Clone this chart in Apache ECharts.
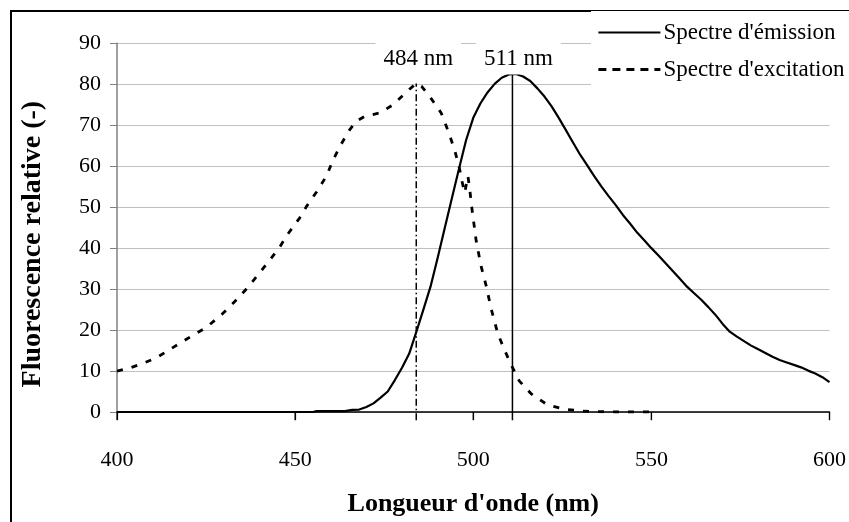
<!DOCTYPE html>
<html>
<head>
<meta charset="utf-8">
<script src="https://cdn.jsdelivr.net/npm/echarts@6/dist/echarts.min.js"></script>
<style>
html,body{margin:0;padding:0;background:#fff;}
#chart{width:849px;height:522px;}
</style>
</head>
<body>
<div id="chart"></div>
<script>
// ---- data ----
var emissionWavelengths = [400,455,456,464,466,468,470,472,474,476,478,480,482,484,486,488,490,492,494,496,498,500,502,504,506,508,510,512,514,516,518,520,522,524,526,528,530,532,534,536,538,540,542,544,546,548,550,552,554,556,558,560,562,564,566,568,570,572,574,576,578,580,582,584,586,588,590,592,594,596,598,600];
var emissionValues = [0,0,0.2,0.2,0.5,0.6,1.2,2.1,3.5,5.0,7.8,10.8,14.2,19.5,25.0,30.6,37.6,44.9,52.2,59.4,66.4,71.8,75.3,78.0,80.1,81.6,82.4,82.5,81.9,80.8,79.0,77.0,74.6,71.8,68.8,65.8,62.8,60.2,57.5,55.0,52.7,50.5,48.1,46.0,43.8,41.9,40.0,38.2,36.3,34.4,32.5,30.6,29.0,27.4,25.6,23.7,21.5,19.6,18.4,17.3,16.2,15.3,14.4,13.5,12.7,12.1,11.5,10.9,10.1,9.4,8.5,7.3];

var excitationWavelengths = [400,403,406.5,411,416,420.5,425,429.4,433,436.4,439.7,443,445.7,448,451.3,453.2,456,458.8,460.7,463,465.4,467.2,469.6,473.8,477.5,481.7,484,485.5,488.2,491,492.9,494.8,496.2,496.6,497.6,498.5,499,499.5,500,500.8,502.2,503.6,505,506.9,508.8,510.6,512.9,516.2,520.9,525.6,530.7,535,540,545,550];
var excitationValues = [10,10.6,11.6,13.2,15.9,18.3,20.6,23.8,26.9,30.1,33.6,37.2,40.3,43.5,47.4,50.2,53.7,57.6,61.6,65.5,69,71,72.2,73,75,78.5,80.2,79.5,76.5,73,68.7,63.9,59.2,57.2,53.5,57.6,54.5,50.5,47.2,41.9,35.6,30.9,25.3,19.1,15.1,11.6,7.6,4.5,1.7,0.7,0.2,0.1,0,0,0];

var excitationPeak = [484, 80.2];
var emissionPeak = [511, 82.5];
var peakLabels = ['484 nm', '511 nm'];
var belowAxis = -2;

var seriesNames = ["Spectre d'émission", "Spectre d'excitation"];
var xTitle = "Longueur d'onde (nm)";
var yTitle = "Fluorescence relative (-)";
var xMin = 400, xMax = 600, xStep = 50;
var yMin = 0, yMax = 90, yStep = 10;
var xTickValues = [400, 450, 500, 550, 600];

function zip(xs, ys) { return xs.map(function (x, i) { return [x, ys[i]]; }); }

// tick stubs below the x axis, built from the tick values (broken between ticks)
var tickStubs = [];
xTickValues.forEach(function (t, i) {
  if (i > 0) tickStubs.push([t, '-']);
  tickStubs.push([t, yMin]);
  tickStubs.push([t, belowAxis]);
});

var FONT = 'Liberation Serif';
var chart = echarts.init(document.getElementById('chart'), null, {renderer: 'canvas'});

function peakLabel(text, dist, dx, dy) {
  return {show: true, position: 'top', distance: dist, offset: [dx, dy], formatter: text,
    fontFamily: FONT, fontSize: 23, color: '#000', lineHeight: 24,
    backgroundColor: '#fff', padding: [8, 8, 4, 8]};
}

var option = {
  animation: false,
  backgroundColor: '#fff',
  grid: {left: 117, top: 43.3, width: 713.7, height: 380.7, containLabel: false},
  legend: {
    data: [
      {name: seriesNames[0]},
      {name: seriesNames[1], lineStyle: {type: [8, 6], width: 2.8}}
    ],
    orient: 'vertical',
    left: 591,
    top: 11,
    padding: [10, 12, 13, 6],
    backgroundColor: '#fff',
    itemWidth: 62,
    itemHeight: 14,
    itemGap: 14,
    itemStyle: {color: 'rgba(0,0,0,0)', borderColor: 'rgba(0,0,0,0)', borderWidth: 0, opacity: 0},
    textStyle: {fontFamily: FONT, fontSize: 23, color: '#000', lineHeight: 23, padding: [0, 0, 0, -2]}
  },
  xAxis: {
    type: 'value', min: xMin, max: xMax, interval: xStep,
    position: 'bottom',
    name: xTitle, nameLocation: 'middle', nameGap: 79,
    nameTextStyle: {fontFamily: FONT, fontSize: 26, fontWeight: 'bold', color: '#000'},
    axisLine: {show: true, onZero: false, lineStyle: {color: '#000', width: 1.5}},
    axisTick: {show: true, inside: false, length: 8, lineStyle: {color: '#000', width: 1.2}},
    axisLabel: {fontFamily: FONT, fontSize: 22, color: '#000', margin: 37},
    splitLine: {show: false}
  },
  yAxis: {
    type: 'value', min: yMin, max: yMax, interval: yStep,
    name: yTitle, nameLocation: 'middle', nameGap: 70, nameRotate: 90,
    nameTextStyle: {fontFamily: FONT, fontSize: 28, fontWeight: 'bold', color: '#000', padding: [0, 33, 0, 0]},
    axisLine: {show: true, lineStyle: {color: '#808080', width: 1.5}},
    axisTick: {show: true, length: 7, lineStyle: {color: '#808080', width: 1}},
    axisLabel: {fontFamily: FONT, fontSize: 22, color: '#000', margin: 16},
    splitLine: {show: true, lineStyle: {color: '#c0c0c0', width: 1}}
  },
  graphic: [{
    type: 'rect', silent: true, z: -1,
    shape: {x: 11, y: 11, width: 860, height: 540},
    style: {fill: 'none', stroke: '#000', lineWidth: 2}
  }],
  series: [
    {
      name: seriesNames[0], type: 'line', data: zip(emissionWavelengths, emissionValues),
      showSymbol: false, symbol: 'none', smooth: false,
      lineStyle: {color: '#000', width: 2.2, type: 'solid'},
      itemStyle: {color: '#000'}, z: 3
    },
    {
      name: seriesNames[1], type: 'line', data: zip(excitationWavelengths, excitationValues),
      showSymbol: false, symbol: 'none', smooth: false,
      lineStyle: {color: '#000', width: 2.8, type: [6, 9]},
      itemStyle: {color: '#000'}, z: 3
    },
    {
      name: 'ex-peak', type: 'line', clip: false, symbol: 'circle', symbolSize: 1, showSymbol: true,
      itemStyle: {color: 'rgba(0,0,0,0)'},
      lineStyle: {color: '#000', width: 1.5, type: [7, 3, 1.5, 3]},
      label: {show: false},
      data: [[excitationPeak[0], belowAxis], {value: excitationPeak, label: peakLabel(peakLabels[0], 11, 2, 3)}],
      z: 4
    },
    {
      name: 'em-peak', type: 'line', clip: false, symbol: 'circle', symbolSize: 1, showSymbol: true,
      itemStyle: {color: 'rgba(0,0,0,0)'},
      lineStyle: {color: '#000', width: 1.5, type: 'solid'},
      label: {show: false},
      data: [[emissionPeak[0], belowAxis], {value: emissionPeak, label: peakLabel(peakLabels[1], 1, 6, 2)}],
      z: 4
    },
    {
      name: 'x-ticks', type: 'line', clip: false, symbol: 'none', showSymbol: false,
      connectNulls: false, silent: true,
      lineStyle: {color: '#000', width: 1.2, type: 'solid'},
      data: tickStubs, z: 2
    }
  ]
};
chart.setOption(option);
</script>
</body>
</html>
